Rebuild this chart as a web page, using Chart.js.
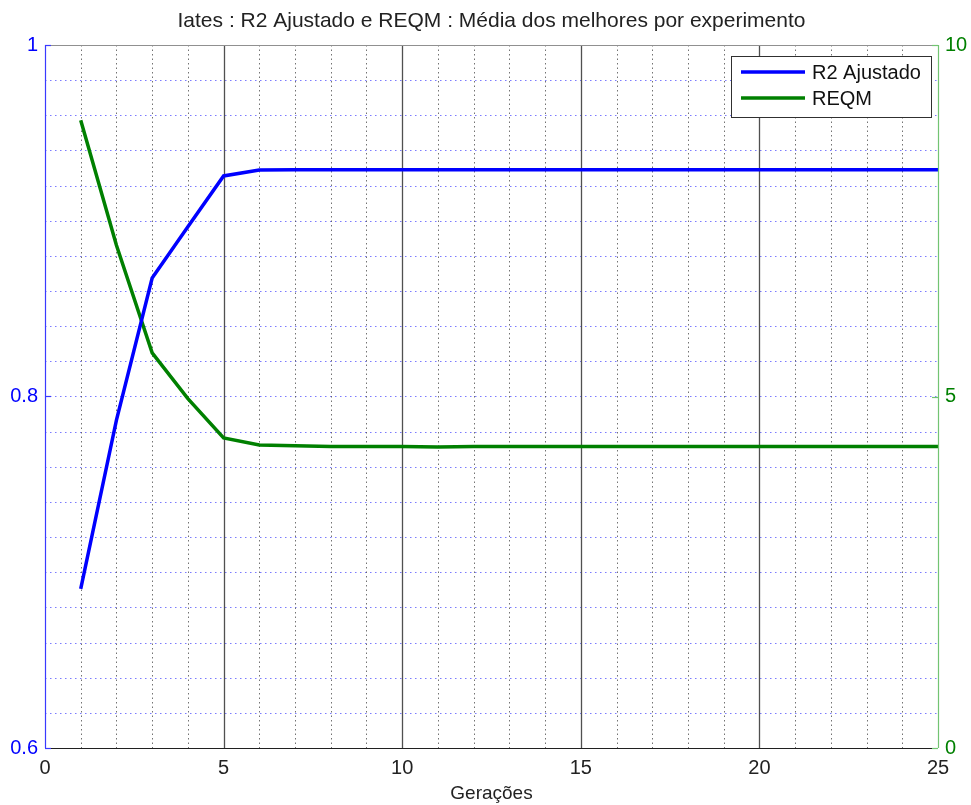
<!DOCTYPE html>
<html><head><meta charset="utf-8">
<script src="https://cdn.jsdelivr.net/npm/chart.js@4/dist/chart.umd.min.js"></script>
<style>html,body{margin:0;padding:0;background:#fff;}#wrap{width:971px;height:805px;}</style>
</head><body><div id="wrap"><canvas id="c" width="971" height="805"></canvas></div>
<script>
const chartTitle = 'Iates : R2 Ajustado e REQM : Média dos melhores por experimento';
const xAxisTitle = 'Gerações';
const seriesLabels = ['R2 Ajustado', 'REQM'];
const generations = [1,2,3,4,5,6,7,8,9,10,11,12,13,14,15,16,17,18,19,20,21,22,23,24,25];
const r2Ajustado = [0.6905,0.7866,0.8674,0.8966,0.9255,0.9289,0.9290,0.9290,0.9290,0.9290,0.9290,0.9290,0.9290,0.9290,0.9290,0.9290,0.9290,0.9290,0.9290,0.9290,0.9290,0.9290,0.9290,0.9290,0.9290];
const reqm = [8.93,7.15,5.62,4.97,4.41,4.31,4.30,4.29,4.29,4.29,4.28,4.29,4.29,4.29,4.29,4.29,4.29,4.29,4.29,4.29,4.29,4.29,4.29,4.29,4.29];
const xTicks = [0,5,10,15,20,25];
const leftTicks = [0.6,0.8,1];
const rightTicks = [0,5,10];

const FONT = '"Liberation Sans", Arial, Helvetica, sans-serif';
Chart.defaults.font.family = FONT;

const gridPlugin = {
  id: 'matlabGrid',
  beforeDatasetsDraw(chart) {
    const ctx = chart.ctx, ca = chart.chartArea;
    const xs = chart.scales.x, ys = chart.scales.y;
    ctx.save();
    ctx.strokeStyle = 'rgba(90,90,255,0.8)';
    ctx.lineWidth = 1;
    ctx.setLineDash([1.5, 3.5]);
    for (let i = 1; i < 20; i++) {
      const v = ys.min + i * 0.02;
      const py = Math.round(ys.getPixelForValue(v)) + 0.5;
      ctx.beginPath(); ctx.moveTo(ca.left, py); ctx.lineTo(ca.right, py); ctx.stroke();
    }
    for (let v = xs.min + 1; v < xs.max; v++) {
      const px = Math.round(xs.getPixelForValue(v)) + 0.5;
      if (v % 5 === 0) {
        ctx.setLineDash([]);
        ctx.strokeStyle = '#505050';
        ctx.lineWidth = 1.3;
      } else {
        ctx.setLineDash([1.5, 3]);
        ctx.strokeStyle = 'rgba(80,80,80,0.8)';
        ctx.lineWidth = 1;
      }
      ctx.beginPath(); ctx.moveTo(px, ca.top); ctx.lineTo(px, ca.bottom); ctx.stroke();
    }
    ctx.restore();
  },
  afterDatasetsDraw(chart) {
    const ctx = chart.ctx, ca = chart.chartArea;
    const ys = chart.scales.y, y1 = chart.scales.y1;
    ctx.save();
    ctx.setLineDash([]);
    ctx.lineWidth = 1.2;
    ctx.strokeStyle = '#909090';
    ctx.beginPath(); ctx.moveTo(ca.left, ca.top + 0.5); ctx.lineTo(ca.right, ca.top + 0.5); ctx.stroke();
    ctx.strokeStyle = '#202020';
    ctx.beginPath(); ctx.moveTo(ca.left, ca.bottom + 0.5); ctx.lineTo(ca.right, ca.bottom + 0.5); ctx.stroke();
    ctx.strokeStyle = '#3a3aff';
    ctx.beginPath(); ctx.moveTo(ca.left + 0.5, ca.top); ctx.lineTo(ca.left + 0.5, ca.bottom); ctx.stroke();
    ctx.strokeStyle = '#72c472';
    ctx.beginPath(); ctx.moveTo(ca.right + 0.5, ca.top); ctx.lineTo(ca.right + 0.5, ca.bottom); ctx.stroke();
    const tl = 6;
    ctx.strokeStyle = '#3a3aff';
    leftTicks.forEach(v => { const py = Math.round(ys.getPixelForValue(v)) + 0.5; ctx.beginPath(); ctx.moveTo(ca.left, py); ctx.lineTo(ca.left + tl, py); ctx.stroke(); });
    ctx.strokeStyle = '#72c472';
    rightTicks.forEach(v => { const py = Math.round(y1.getPixelForValue(v)) + 0.5; ctx.beginPath(); ctx.moveTo(ca.right, py); ctx.lineTo(ca.right - tl, py); ctx.stroke(); });
    ctx.restore();
  },
  afterDraw(chart) {
    const ctx = chart.ctx, ca = chart.chartArea;
    const bw = 200, bh = 61;
    const bx = ca.right - 207, by = ca.top + 11;
    ctx.save();
    ctx.fillStyle = '#ffffff';
    ctx.fillRect(bx, by, bw, bh);
    ctx.strokeStyle = '#303030';
    ctx.lineWidth = 1;
    ctx.strokeRect(bx + 0.5, by + 0.5, bw, bh);
    ctx.font = '20px ' + FONT;
    ctx.textBaseline = 'middle';
    ctx.textAlign = 'left';
    chart.data.datasets.forEach((ds, i) => {
      const cy = by + 16 + i * 26;
      ctx.strokeStyle = ds.borderColor;
      ctx.lineWidth = 3.5;
      ctx.beginPath(); ctx.moveTo(bx + 10, cy); ctx.lineTo(bx + 74, cy); ctx.stroke();
      ctx.fillStyle = '#111';
      ctx.fillText(ds.label, bx + 81, cy + 1);
    });
    ctx.restore();
  }
};

new Chart(document.getElementById('c'), {
  type: 'line',
  data: {
    labels: generations,
    datasets: [
      { label: seriesLabels[0], data: generations.map((g, i) => ({x: g, y: r2Ajustado[i]})), yAxisID: 'y',
        borderColor: '#0000ff', backgroundColor: '#0000ff', borderWidth: 3.5, pointRadius: 0, tension: 0, fill: false },
      { label: seriesLabels[1], data: generations.map((g, i) => ({x: g, y: reqm[i]})), yAxisID: 'y1',
        borderColor: '#008000', backgroundColor: '#008000', borderWidth: 3.5, pointRadius: 0, tension: 0, fill: false }
    ]
  },
  options: {
    responsive: false,
    devicePixelRatio: 1,
    animation: false,
    layout: { padding: 0 },
    plugins: {
      legend: { display: false },
      tooltip: { enabled: false },
      title: { display: true, fullSize: false, text: chartTitle, color: '#222', font: { size: 21, weight: 'normal', family: FONT },
               padding: { top: 9, bottom: 10.8 } }
    },
    scales: {
      x: {
        type: 'linear', min: 0, max: 25,
        afterBuildTicks: s => { s.ticks = xTicks.map(v => ({ value: v })); },
        afterFit: s => { s.height = 57; },
        grid: { display: false, drawTicks: false },
        border: { display: false },
        ticks: { color: '#222', font: { size: 20 }, padding: 8, maxRotation: 0, autoSkip: false, callback: v => String(v) },
        title: { display: true, text: xAxisTitle, color: '#222', font: { size: 19 }, padding: { top: 0, bottom: 0 } }
      },
      y: {
        type: 'linear', position: 'left', min: 0.6, max: 1,
        afterBuildTicks: s => { s.ticks = leftTicks.map(v => ({ value: v })); },
        afterFit: s => { s.width = 45; },
        grid: { display: false, drawTicks: false },
        border: { display: false },
        ticks: { color: '#0000ff', font: { size: 20 }, padding: 7, callback: v => String(v) }
      },
      y1: {
        type: 'linear', position: 'right', min: 0, max: 10,
        afterBuildTicks: s => { s.ticks = rightTicks.map(v => ({ value: v })); },
        afterFit: s => { s.width = 33; },
        grid: { display: false, drawTicks: false },
        border: { display: false },
        ticks: { color: '#008000', font: { size: 20 }, padding: 7, callback: v => String(v) }
      }
    }
  },
  plugins: [gridPlugin]
});
</script>
</body></html>
